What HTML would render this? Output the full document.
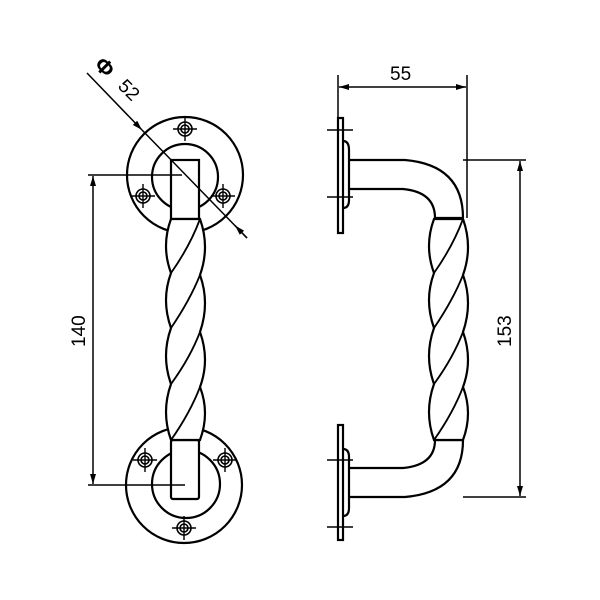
<!DOCTYPE html>
<html><head><style>body{margin:0;background:#fff}svg{display:block}</style></head><body>
<svg width="600" height="600" viewBox="0 0 600 600" xmlns="http://www.w3.org/2000/svg" font-family="Liberation Sans, sans-serif">
<defs>
<marker id="a" viewBox="0 0 10 6" refX="10" refY="3" markerWidth="11" markerHeight="6" orient="auto" markerUnits="userSpaceOnUse"><path d="M0,0 L10,3 L0,6 z" fill="#000"/></marker>
<g id="hole"><circle r="7" fill="#fff" stroke="#000" stroke-width="1.6"/><circle r="4" fill="none" stroke="#000" stroke-width="1.6"/><path d="M-12,0H12M0,-12V12" stroke="#000" stroke-width="1.4"/></g>
<g id="twist" fill="none" stroke="#000" stroke-width="2.2">
<path d="M171,219 Q161,246 171,273 Q161,300 171,328 Q161,356 171,384 Q161,412 171,440 L200,440 Q210,413 200,387 Q210,360 200,332 Q210,303 200,275 Q210,247 200,219 Z" fill="#fff"/>
<path d="M200,219 Q190,246 171,273 M200,275 Q190,300 171,328 M200,332 Q190,358 171,384 M200,387 Q190,413 171,440" stroke-width="1.8"/>
</g>
</defs>
<g fill="none" stroke="#000" stroke-width="2.2">
<circle cx="185" cy="175" r="58"/>
<circle cx="185" cy="177" r="33"/>
<circle cx="184" cy="485" r="58"/>
<circle cx="186" cy="484" r="34"/>
</g>
<use href="#hole" x="185" y="129"/><use href="#hole" x="143" y="196"/><use href="#hole" x="223" y="196"/>
<use href="#hole" x="145" y="460"/><use href="#hole" x="225" y="460"/><use href="#hole" x="184" y="528"/>
<rect x="171" y="160" width="28" height="59" fill="#fff" stroke="#000" stroke-width="2.2"/>
<rect x="171" y="440" width="28" height="59" rx="2" fill="#fff" stroke="#000" stroke-width="2.2"/>
<use href="#twist"/>
<g stroke="#000" stroke-width="1.5" fill="none">
<path d="M88,175H182M88,485H185"/>
<line x1="93" y1="330" x2="93" y2="176" marker-end="url(#a)"/>
<line x1="93" y1="330" x2="93" y2="484" marker-end="url(#a)"/>
<line x1="87" y1="73" x2="142" y2="130" marker-end="url(#a)"/>
<line x1="142" y1="130" x2="247" y2="238"/>
<line x1="247" y1="238" x2="235" y2="225.5" marker-end="url(#a)"/>
</g>
<text x="0" y="0" font-size="19" transform="translate(85,347) rotate(-90)">140</text>
<text x="0" y="0" font-size="22" font-weight="bold" transform="translate(93,66) rotate(45)">Φ</text>
<text x="0" y="0" font-size="19" transform="translate(117,87) rotate(45)">52</text>
<g fill="none" stroke="#000" stroke-width="2.2">
<rect x="338" y="118" width="5" height="115" fill="#fff"/>
<rect x="338" y="425" width="5" height="115" fill="#fff"/>
<path d="M343,141 Q349,141 349,150 V200 Q349,208 343,208"/>
<path d="M343,449 Q349,449 349,457 V508 Q349,516 343,516"/>
<path d="M349,160 H405 Q463,165 463,218 M349,189 H403 Q435,192 435,218 M435,218 H463"/>
<path d="M349,497 H405 Q463,492 463,440 M349,468 H403 Q435,465 435,440 M435,440 H463"/>
</g>
<use href="#twist" transform="translate(263,0)"/>
<g stroke="#000" stroke-width="1.5" fill="none">
<path d="M327,130H353M327,197H353M327,460H353M327,527H353"/>
<path d="M338,75V118M467,75V218M463,160H526M463,497H526"/>
<line x1="402" y1="87" x2="339" y2="87" marker-end="url(#a)"/>
<line x1="402" y1="87" x2="466" y2="87" marker-end="url(#a)"/>
<line x1="520" y1="330" x2="520" y2="161" marker-end="url(#a)"/>
<line x1="520" y1="330" x2="520" y2="496" marker-end="url(#a)"/>
</g>
<text x="390" y="80" font-size="19">55</text>
<text x="0" y="0" font-size="19" transform="translate(511,347) rotate(-90)">153</text>
</svg>
</body></html>
